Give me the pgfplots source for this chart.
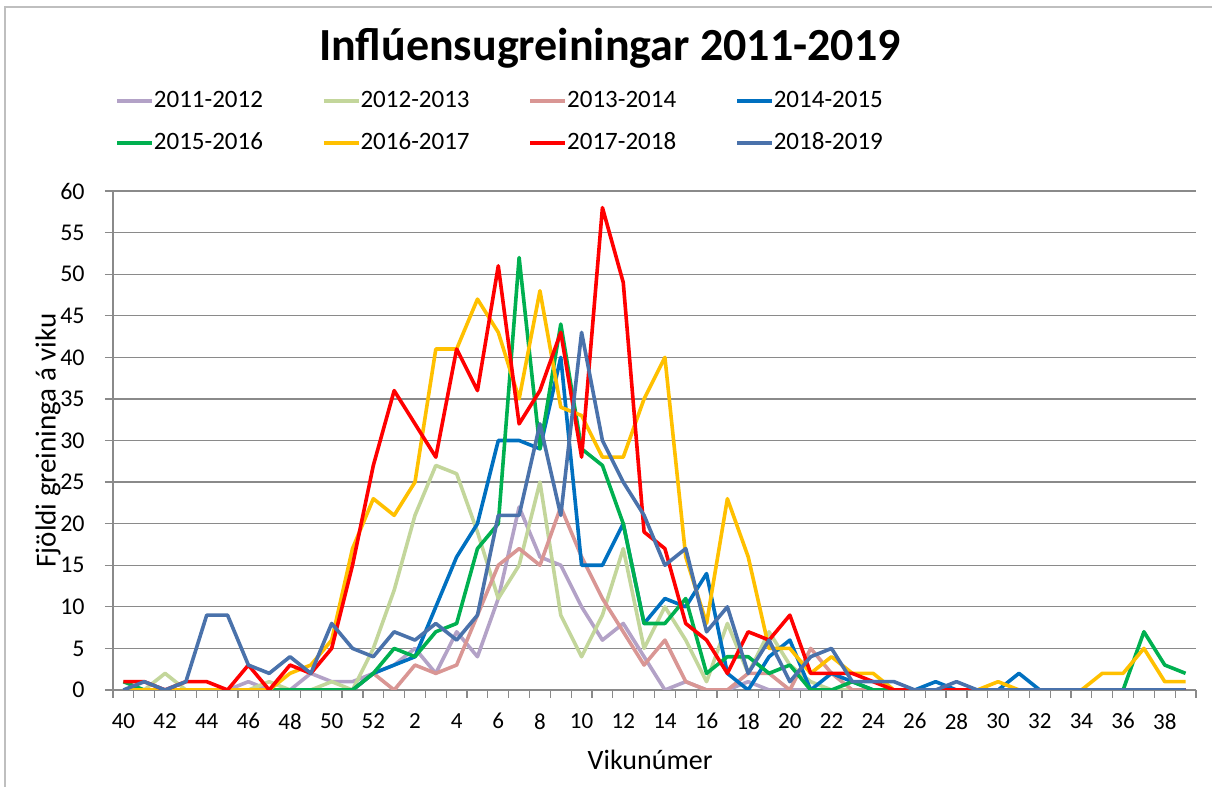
\documentclass[border=0pt]{standalone}
\usepackage{fontspec}
\setmainfont{Carlito}
\usepackage{pgfplots}
\pgfplotsset{compat=1.18}
\usepackage{pgfplotstable}
\definecolor{cA}{HTML}{B3A2C7}
\definecolor{cB}{HTML}{C3D69B}
\definecolor{cC}{HTML}{D99694}
\definecolor{cD}{HTML}{0070C0}
\definecolor{cE}{HTML}{00B050}
\definecolor{cF}{HTML}{FFC000}
\definecolor{cG}{HTML}{FF0000}
\definecolor{cH}{HTML}{4A72AB}
\definecolor{axgray}{HTML}{8A8A8A}
% i = position (0 = week 40 ... 12 = week 52, 13 = week 1 ... 51 = week 39)
\pgfplotstableread{
i  a  b  c  d  e  f  g  h
0  0  0  0  0  1  0  1  0
1  0  0  0  0  0  0  1  1
2  0  2  0  0  0  0  0  0
3  0  0  0  0  0  0  1  1
4  0  0  0  0  0  0  1  9
5  0  0  0  0  0  0  0  9
6  1  0  0  0  0  0  3  3
7  0  1  0  0  0  0  0  2
8  0  0  0  0  0  2  3  4
9  2  0  0  0  0  3  2  2
10 1  1  0  0  0  6  5  8
11 1  0  0  0  0  17 15 5
12 2  5  2  2  2  23 27 4
13 3  12 0  3  5  21 36 7
14 5  21 3  4  4  25 32 6
15 2  27 2  10 7  41 28 8
16 7  26 3  16 8  41 41 6
17 4  19 9  20 17 47 36 9
18 11 11 15 30 20 43 51 21
19 22 15 17 30 52 35 32 21
20 16 25 15 29 29 48 36 32
21 15 9  22 40 44 34 43 21
22 10 4  16 15 29 33 28 43
23 6  9  11 15 27 28 58 30
24 8  17 7  20 20 28 49 25
25 4  5  3  8  8  35 19 21
26 0  10 6  11 8  40 17 15
27 1  6  1  10 11 16 8  17
28 0  1  0  14 2  8  6  7
29 0  8  0  2  4  23 2  10
30 1  2  2  0  4  16 7  2
31 0  7  2  4  2  5  6  6
32 0  3  0  6  3  5  9  1
33 0  1  5  0  0  2  2  4
34 0  0  2  2  0  4  2  5
35 0  0  0  1  1  2  2  1
36 0  0  0  0  0  2  1  1
37 0  0  0  0  0  0  0  1
38 0  0  0  0  0  0  0  0
39 0  0  0  1  0  0  0  0
40 0  0  0  0  0  0  0  1
41 0  0  0  0  0  0  0  0
42 0  0  0  0  0  1  0  0
43 0  0  0  2  0  0  0  0
44 0  0  0  0  0  0  0  0
45 0  0  0  0  0  0  0  0
46 0  0  0  0  0  0  0  0
47 0  0  0  0  0  2  0  0
48 0  0  0  0  0  2  0  0
49 0  0  0  0  7  5  0  0
50 0  0  0  0  3  1  0  0
51 0  0  0  0  2  1  0  0
}\data

\begin{document}
\begin{tikzpicture}
\useasboundingbox (0pt,0pt) rectangle (606pt,393.5pt);
\draw[gray!50, line width=0.6pt] (2.5pt,0pt) -- (2.5pt,390pt) -- (606pt,390pt);
\node[font=\bfseries\fontsize{23}{27}\selectfont] at (305pt,369.5pt) {Inflúensugreiningar 2011-2019};
\begin{axis}[
  at={(56.5pt,48.5pt)}, anchor=south west,
  scale only axis, width=541.5pt, height=249.5pt,
  xmin=-0.5, xmax=51.5, ymin=0, ymax=60,
  ytick={0,5,...,60},
  xtick={-0.5,0.5,...,51.5}, xticklabels={},
  extra x ticks={0,2,...,50},
  extra x tick labels={40,42,44,46,48,50,52,2,4,6,8,10,12,14,16,18,20,22,24,26,28,30,32,34,36,38},
  extra x tick style={major tick length=0pt},
  axis x line*=bottom, axis y line*=left,
  axis line style={draw=axgray, line width=0.6pt, -},
  tick align=outside, major tick length=4pt,
  tick style={draw=axgray, line width=0.6pt},
  ymajorgrids, grid style={draw=axgray, line width=0.6pt},
  /pgf/number format/assume math mode=true,
  xticklabel style={font=\fontsize{11.5}{13}\selectfont, inner sep=0pt, anchor=north, yshift=-11.5pt},
  yticklabel style={font=\fontsize{12}{14}\selectfont, inner sep=0pt, anchor=east, xshift=-10pt},
  xlabel={Vikunúmer}, ylabel={Fjöldi greininga á viku},
  every axis x label/.style={at={(axis description cs:0.496,-0.14)}, anchor=center, font=\fontsize{14}{16}\selectfont},
  every axis y label/.style={at={(axis description cs:-0.06,0.5)}, anchor=center, rotate=90, font=\fontsize{14.5}{16}\selectfont},
  legend columns=4,
  legend cell align=left,
  legend image code/.code={\draw[#1] (0pt,0pt) -- (17.5pt,0pt);},
  legend style={at={(axis description cs:0.0018,1.138)}, anchor=west, draw=none, fill=none,
    inner sep=0pt, nodes={inner sep=0pt, text height=8.5pt, text depth=2pt},
    font=\fontsize{12.5}{15}\selectfont, row sep=10.5pt, column sep=0pt,
    /tikz/every odd column/.append style={column sep=0pt},
    /tikz/every even column/.append style={column sep=29.5pt}},
  every axis plot/.append style={line width=1.8pt, line join=round, mark=none},
]
\addplot[cA] table[x=i,y=a]{\data};
\addplot[cB] table[x=i,y=b]{\data};
\addplot[cC] table[x=i,y=c]{\data};
\addplot[cD] table[x=i,y=d]{\data};
\addplot[cE] table[x=i,y=e]{\data};
\addplot[cF] table[x=i,y=f]{\data};
\addplot[cG] table[x=i,y=g]{\data};
\addplot[cH] table[x=i,y=h]{\data};
\legend{2011-2012,2012-2013,2013-2014,2014-2015,2015-2016,2016-2017,2017-2018,2018-2019}
\end{axis}
\end{tikzpicture}
\end{document}
